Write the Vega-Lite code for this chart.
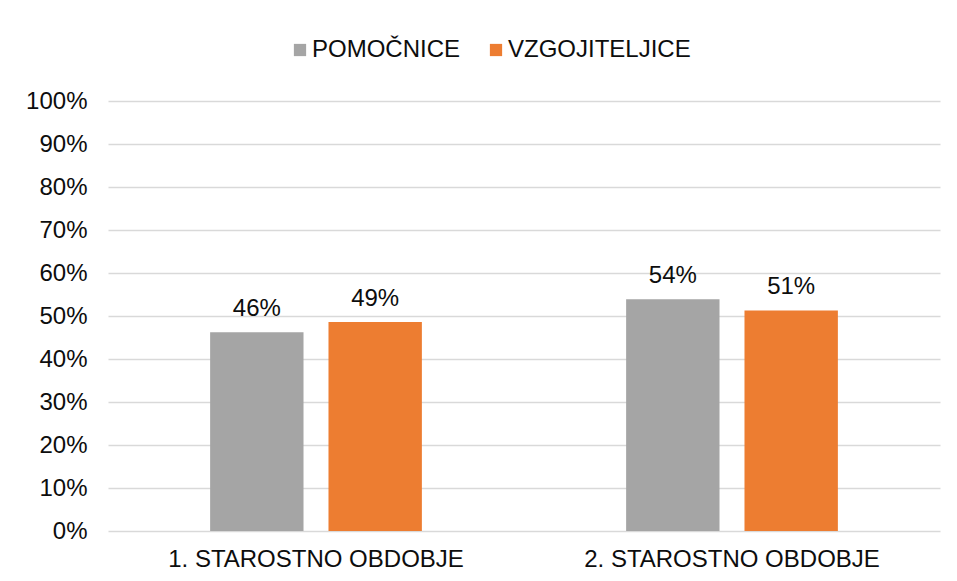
{
  "$schema": "https://vega.github.io/schema/vega-lite/v6.json",
  "autosize": "none",
  "width": 832,
  "height": 430,
  "padding": {"left": 108, "top": 101, "right": 17, "bottom": 50},
  "background": "white",
  "config": {
    "font": "Liberation Sans",
    "view": {"stroke": null},
    "axis": {"labelFont": "Liberation Sans", "labelColor": "#0d0d0d", "labelFontSize": 24, "title": null, "labelLimit": 0}
  },
  "data": {
    "values": [
      {"obdobje": "1. STAROSTNO OBDOBJE", "skupina": "POMOČNICE", "delez": 0.462},
      {"obdobje": "1. STAROSTNO OBDOBJE", "skupina": "VZGOJITELJICE", "delez": 0.486},
      {"obdobje": "2. STAROSTNO OBDOBJE", "skupina": "POMOČNICE", "delez": 0.539},
      {"obdobje": "2. STAROSTNO OBDOBJE", "skupina": "VZGOJITELJICE", "delez": 0.513}
    ]
  },
  "encoding": {
    "x": {
      "field": "obdobje", "type": "nominal",
      "scale": {"paddingInner": 0.491, "paddingOuter": 0.2455},
      "axis": {"labelAngle": 0, "ticks": false, "domain": false, "labelPadding": 16, "grid": false, "labelLimit": 0}
    },
    "xOffset": {
      "field": "skupina", "type": "nominal",
      "scale": {"paddingInner": 0.211, "paddingOuter": 0}
    },
    "y": {
      "field": "delez", "type": "quantitative",
      "scale": {"domain": [0, 1]},
      "axis": {
        "values": [0, 0.1, 0.2, 0.3, 0.4, 0.5, 0.6, 0.7, 0.8, 0.9, 1],
        "format": ".0%", "ticks": false, "domain": false, "labelPadding": 21,
        "grid": true, "gridColor": "#D9D9D9", "gridWidth": 1.5
      }
    }
  },
  "layer": [
    {
      "mark": {"type": "bar"},
      "encoding": {
        "color": {
          "field": "skupina", "type": "nominal",
          "scale": {"domain": ["POMOČNICE", "VZGOJITELJICE"], "range": ["#A5A5A5", "#ED7D31"]},
          "legend": {
            "title": null, "orient": "none", "direction": "horizontal",
            "legendX": 180, "legendY": -63, "padding": 0,
            "symbolType": "square", "symbolSize": 150, "symbolStrokeWidth": 0,
            "labelFontSize": 24, "labelFont": "Liberation Sans", "labelColor": "#0d0d0d",
            "labelOffset": 0, "columnPadding": 23, "labelLimit": 0
          }
        }
      }
    },
    {
      "mark": {"type": "text", "baseline": "alphabetic", "dy": -16, "fontSize": 24, "font": "Liberation Sans", "color": "#0d0d0d"},
      "encoding": {
        "text": {"field": "delez", "type": "quantitative", "format": ".0%"}
      }
    }
  ]
}
